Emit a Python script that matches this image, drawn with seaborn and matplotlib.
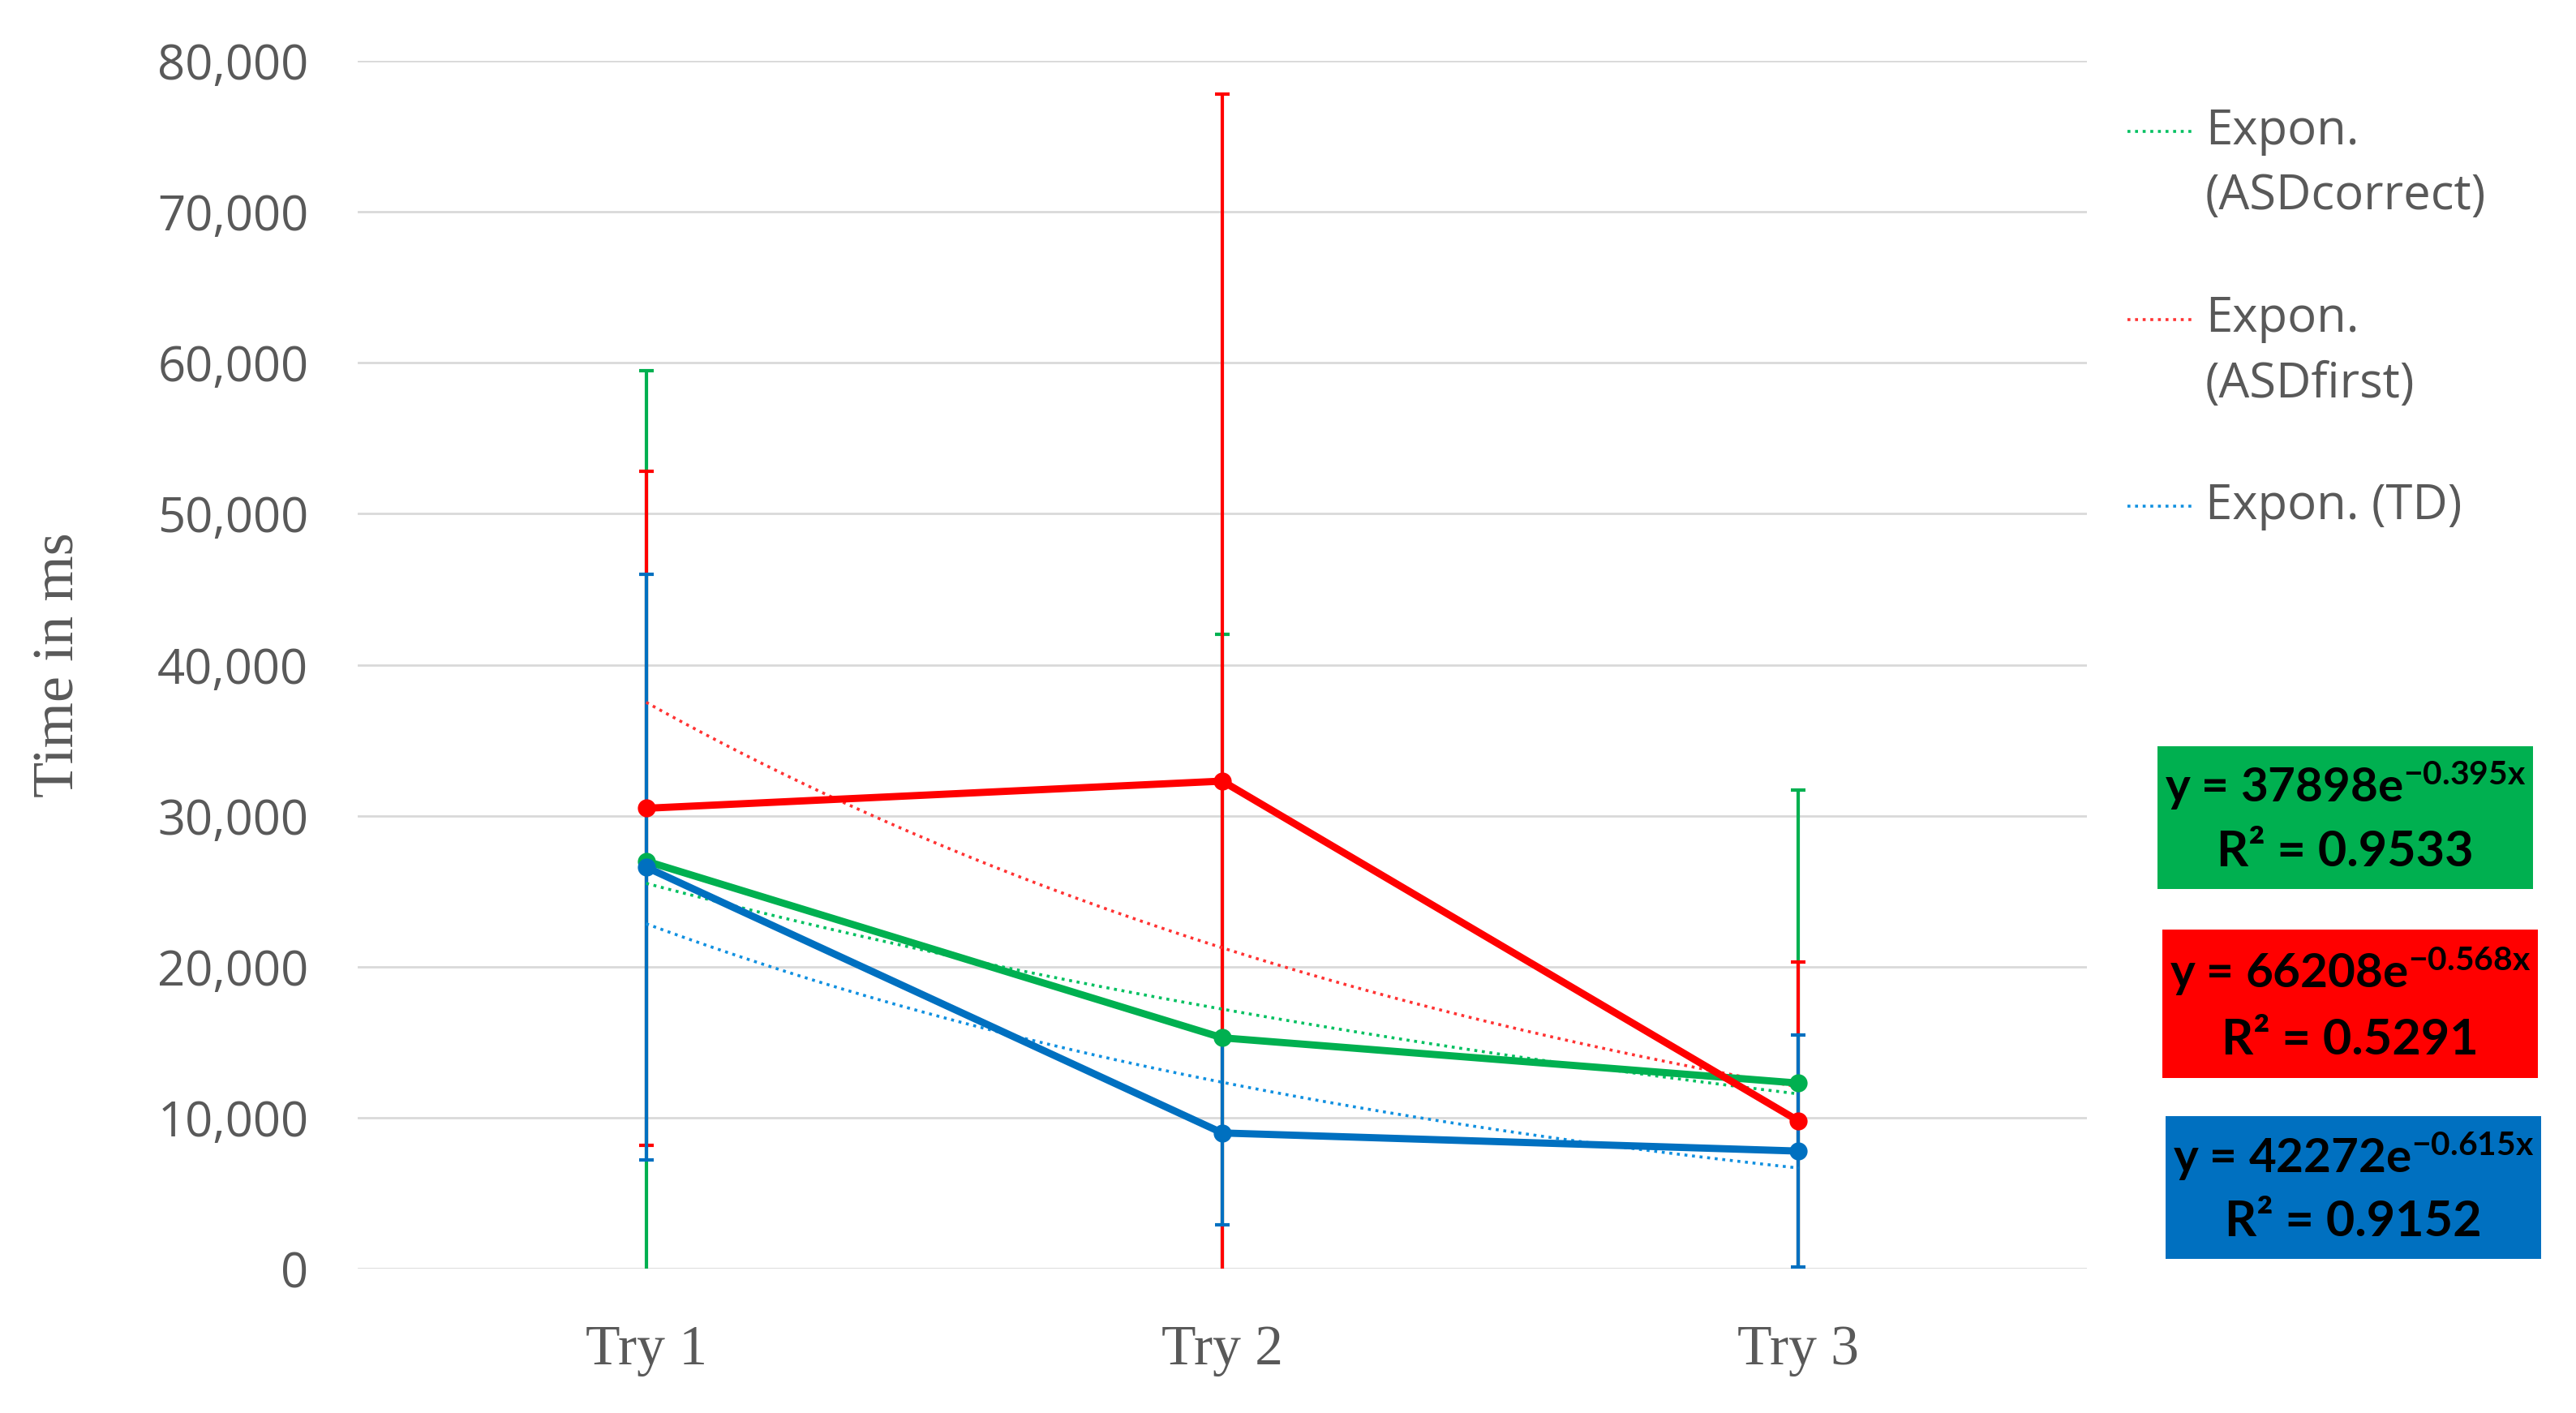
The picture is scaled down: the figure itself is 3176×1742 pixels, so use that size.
import numpy as np
import pandas as pd
import matplotlib.pyplot as plt
import matplotlib.lines as mlines
import matplotlib.patches as mpatches
import seaborn as sns

# Données (temps moyen en ms, écart-type)
tries = ["Try 1", "Try 2", "Try 3"]
groups = ["ASDcorrect", "ASDfirst", "TD"]

asd_correct_mean = [27000, 15300, 12300]
asd_correct_sd = [32500, 26700, 19400]
asd_first_mean = [30500, 32300, 9800]
asd_first_sd = [22300, 45500, 10500]
td_mean = [26600, 9000, 7800]
td_sd = [19400, 6100, 7700]

# Courbes de tendance exponentielles affichées : y = a * e^(b x), x = 1..3
trend_a = [37898, 66208, 42272]
trend_b = [-0.395, -0.568, -0.615]
trend_r2 = ["0.9533", "0.5291", "0.9152"]

colors = ["#00B050", "#FF0000", "#0070C0"]
trend_colors = ["#00C060", "#FF3333", "#1090E0"]
box_colors = ["#00B050", "#FF0000", "#0070C0"]

means = [asd_correct_mean, asd_first_mean, td_mean]
sds = [asd_correct_sd, asd_first_sd, td_sd]

df = pd.DataFrame({
    "group": np.repeat(groups, len(tries)),
    "pos": np.tile(np.arange(len(tries)), len(groups)),
    "time": np.concatenate(means),
    "sd": np.concatenate(sds),
})

sns.set_style("white")
plt.rcParams["font.family"] = ["Open Sans", "DejaVu Sans"]
plt.rcParams["mathtext.fontset"] = "custom"
plt.rcParams["mathtext.rm"] = "Lato:bold"
plt.rcParams["mathtext.it"] = "Lato:bold"
plt.rcParams["mathtext.bf"] = "Lato:bold"

grey = "#595959"

fig, ax = plt.subplots(figsize=(15.88, 8.71), dpi=200)
fig.subplots_adjust(left=0.139, right=0.810, bottom=0.102, top=0.957)

# Barres d'erreur
for i, g in enumerate(groups):
    sub = df[df["group"] == g]
    ax.errorbar(sub["pos"], sub["time"], yerr=sub["sd"], fmt="none",
                ecolor=colors[i], elinewidth=1.5, capsize=3.4, capthick=1.5,
                zorder=2 + i * 0.1)

# Lignes principales
sns.lineplot(data=df, x="pos", y="time", hue="group", hue_order=groups,
             palette=colors, marker="o", markersize=8, markeredgewidth=0,
             linewidth=3.2, legend=False, ax=ax, zorder=4)

# Tendances exponentielles
xs = np.linspace(1, 3, 60)
for i in range(len(groups)):
    ax.plot(xs - 1, trend_a[i] * np.exp(trend_b[i] * xs), color=trend_colors[i],
            linestyle=(0, (1, 1.6)), linewidth=1.3, zorder=3)

ax.set_xlim(-0.5, 2.5)
ax.set_ylim(0, 80000)
ax.set_yticks(np.arange(0, 80001, 10000))
ax.set_yticklabels([f"{v:,.0f}" for v in np.arange(0, 80001, 10000)])
ax.set_xticks(range(len(tries)))
ax.set_xticklabels(tries, family=["Liberation Serif"], fontsize=25, color=grey)
ax.tick_params(axis="y", length=0, pad=22, labelsize=21.5, labelcolor=grey)
ax.tick_params(axis="x", length=0, pad=25)
ax.set_xlabel("")
ax.set_ylabel("Time in ms", family=["Liberation Serif"], fontsize=26,
              color=grey, labelpad=32)
ax.yaxis.grid(True, color="#D9D9D9", linewidth=1)
ax.set_axisbelow(True)
sns.despine(ax=ax, left=True, bottom=True)

# Légende (uniquement les tendances)
legend_labels = ["Expon.\n(ASDcorrect)", "Expon.\n(ASDfirst)", "Expon. (TD)"]
line_y = [0.907, 0.774, 0.642]
text_y = [0.884, 0.751, 0.642]
for i in range(len(groups)):
    fig.add_artist(mlines.Line2D([0.826, 0.851], [line_y[i], line_y[i]],
                                 color=trend_colors[i], linestyle=(0, (1, 1.6)),
                                 linewidth=1.3, transform=fig.transFigure))
    fig.text(0.856, text_y[i], legend_labels[i], fontsize=21.5, color=grey,
             va="center", ha="left", linespacing=1.45)

# Encadrés des équations
box_x = [(0.8375, 0.9834), (0.8393, 0.9853), (0.8406, 0.9866)]
box_y = [(0.371, 0.472), (0.237, 0.342), (0.109, 0.210)]
for i in range(len(groups)):
    x0, x1 = box_x[i]
    y0, y1 = box_y[i]
    fig.add_artist(mpatches.Rectangle((x0, y0), x1 - x0, y1 - y0,
                                      facecolor=box_colors[i], edgecolor="none",
                                      transform=fig.transFigure))
    xc = (x0 + x1) / 2
    h = y1 - y0
    eq = f"y = {trend_a[i]}e$^{{{trend_b[i]:.3f}x}}$"
    fig.text(xc, y0 + h * 0.72, eq, fontsize=21, fontweight="bold",
             family=["Lato"], color="black", ha="center", va="center")
    fig.text(xc, y0 + h * 0.26, f"R² = {trend_r2[i]}", fontsize=22,
             fontweight="bold", family=["Lato"], color="black",
             ha="center", va="center")

fig.savefig("out.png", dpi=200)
